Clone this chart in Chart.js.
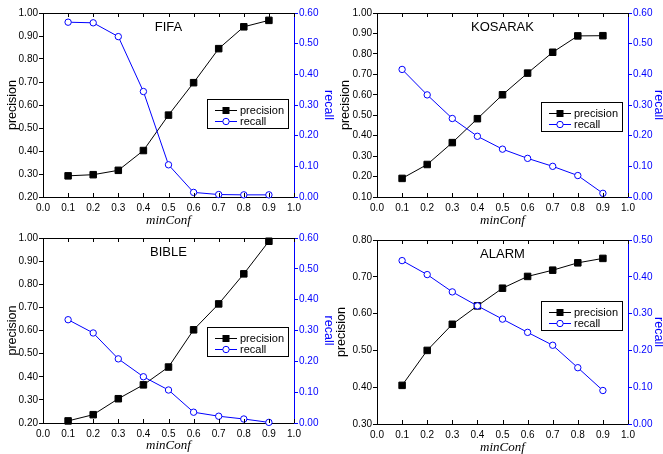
<!DOCTYPE html>
<html>
<head>
<meta charset="utf-8">
<title>precision / recall vs minConf</title>
<script src="https://cdn.jsdelivr.net/npm/chart.js@4/dist/chart.umd.min.js"></script>
<style>
  html, body { margin: 0; padding: 0; background: #fff; }
  body { width: 663px; height: 454px; overflow: hidden; position: relative; }
  canvas { position: absolute; }
</style>
</head>
<body>
<div id="pageContainer"></div>
<script>
/* =========================================================
   DATA
========================================================= */

const minConf = [0.1, 0.2, 0.3, 0.4, 0.5, 0.6, 0.7, 0.8, 0.9];

const fifaPrecision    = [0.292, 0.297, 0.316, 0.402, 0.556, 0.697, 0.845, 0.940, 0.968];
const fifaRecall       = [0.570, 0.568, 0.523, 0.344, 0.105, 0.015, 0.008, 0.007, 0.007];

const kosarakPrecision = [0.191, 0.259, 0.366, 0.483, 0.600, 0.706, 0.808, 0.888, 0.889];
const kosarakRecall    = [0.416, 0.333, 0.256, 0.198, 0.156, 0.126, 0.100, 0.070, 0.012];

const biblePrecision   = [0.209, 0.236, 0.305, 0.365, 0.442, 0.603, 0.715, 0.845, 0.986];
const bibleRecall      = [0.335, 0.292, 0.208, 0.150, 0.107, 0.035, 0.022, 0.013, 0.002];

const alarmPrecision   = [0.405, 0.500, 0.571, 0.621, 0.669, 0.701, 0.718, 0.738, 0.750];
const alarmRecall      = [0.444, 0.406, 0.359, 0.321, 0.285, 0.249, 0.214, 0.153, 0.091];

// axis ranges: [min, max]
const xRange = [0, 1];
const fifaPrecRange    = [0.2, 1.0];
const kosarakPrecRange = [0.1, 1.0];
const biblePrecRange   = [0.2, 1.0];
const alarmPrecRange   = [0.3, 0.8];
const fifaRecRange     = [0, 0.6];
const kosarakRecRange  = [0, 0.6];
const bibleRecRange    = [0, 0.6];
const alarmRecRange    = [0, 0.5];

const seriesLabels = ["precision", "recall"];

/* =========================================================
   STYLE
========================================================= */

const BLUE = "#0000ff";
const SANS = "'Liberation Sans', Arial, sans-serif";
const SERIF = "'Liberation Serif', 'Times New Roman', serif";

Chart.defaults.font.family = SANS;
Chart.defaults.color = "#000";

/* =========================================================
   PANELS  (canvas box + plot rect, in page pixels)
========================================================= */

const panels = [
  { title: "FIFA",    prec: fifaPrecision,    rec: fifaRecall,    precRange: fifaPrecRange,    recRange: fifaRecRange,
    box: [0, 0, 345, 228],   plot: [43, 13, 294, 197],   legendTop: 86, precPad: 4.8 },
  { title: "KOSARAK", prec: kosarakPrecision, rec: kosarakRecall, precRange: kosarakPrecRange, recRange: kosarakRecRange,
    box: [330, 0, 345, 228], plot: [377, 13, 628, 197],  legendTop: 89, precPad: 7.8 },
  { title: "BIBLE",   prec: biblePrecision,   rec: bibleRecall,   precRange: biblePrecRange,   recRange: bibleRecRange,
    box: [0, 227, 345, 226], plot: [43, 238, 294, 423],  legendTop: 89, precPad: 4.8 },
  { title: "ALARM",   prec: alarmPrecision,   rec: alarmRecall,   precRange: alarmPrecRange,   recRange: alarmRecRange,
    box: [330, 227, 345, 228], plot: [377, 240, 628, 424], legendTop: 61, precPad: 4.5 }
];

/* =========================================================
   PLUGIN: top frame, inward x ticks, panel title, legend
========================================================= */

const panelDecor = {
  id: "panelDecor",
  afterDraw(chart, args, opts) {
    const { ctx, chartArea: a, scales } = chart;
    ctx.save();

    // top frame line
    ctx.strokeStyle = "#000";
    ctx.lineWidth = 1;
    ctx.beginPath();
    ctx.moveTo(a.left, a.top + 0.5);
    ctx.lineTo(a.right, a.top + 0.5);

    // x ticks pointing into the plot, top and bottom
    scales.x.ticks.forEach(t => {
      const px = Math.round(scales.x.getPixelForValue(t.value)) + 0.5;
      ctx.moveTo(px, a.bottom);
      ctx.lineTo(px, a.bottom - 4);
      ctx.moveTo(px, a.top);
      ctx.lineTo(px, a.top + 4);
    });
    ctx.stroke();

    // panel title
    ctx.fillStyle = "#000";
    ctx.font = `13px ${SANS}`;
    ctx.textAlign = "center";
    ctx.textBaseline = "middle";
    ctx.fillText(opts.title, (a.left + a.right) / 2, a.top + 14);

    // legend box
    const w = 81, h = 29;
    const lx = Math.round(a.right - 6 - w);
    const ly = Math.round(a.top + opts.legendTop);
    ctx.fillStyle = "#fff";
    ctx.fillRect(lx, ly, w, h);
    ctx.strokeStyle = "#000";
    ctx.strokeRect(lx + 0.5, ly + 0.5, w, h);

    const rows = [
      { label: seriesLabels[0], color: "#000", y: ly + 11 },
      { label: seriesLabels[1], color: BLUE,   y: ly + 21.5 }
    ];
    rows.forEach((r, i) => {
      const ry = Math.round(r.y) + 0.5;
      ctx.strokeStyle = r.color;
      ctx.beginPath();
      ctx.moveTo(lx + 8, ry);
      ctx.lineTo(lx + 30, ry);
      ctx.stroke();
      const mx = lx + 19;
      if (i === 0) {
        ctx.fillStyle = "#000";
        ctx.fillRect(mx - 3.5, ry - 3.5, 7, 7);
      } else {
        ctx.fillStyle = "#fff";
        ctx.beginPath();
        ctx.arc(mx, ry, 3.2, 0, Math.PI * 2);
        ctx.fill();
        ctx.stroke();
      }
      ctx.fillStyle = "#000";
      ctx.font = `11px ${SANS}`;
      ctx.textAlign = "left";
      ctx.textBaseline = "middle";
      ctx.fillText(r.label, lx + 33, ry);
    });

    ctx.restore();
  }
};

/* =========================================================
   RENDER
========================================================= */

function toPoints(values) {
  return minConf.map((x, i) => ({ x, y: values[i] }));
}

function renderPanel(p) {
  const [cl, ct, cw, ch] = p.box;
  const [pl, pt, pr, pb] = p.plot;

  const canvas = document.createElement("canvas");
  canvas.width = cw;
  canvas.height = ch;
  canvas.style.left = cl + "px";
  canvas.style.top = ct + "px";
  canvas.style.width = cw + "px";
  canvas.style.height = ch + "px";
  document.getElementById("pageContainer").appendChild(canvas);

  const leftW = pl - cl;
  const rightW = cl + cw - pr;
  const bottomH = ct + ch - pb;

  new Chart(canvas, {
    type: "line",
    data: {
      datasets: [
        {
          label: seriesLabels[0],
          data: toPoints(p.prec),
          yAxisID: "y",
          order: 1,
          borderColor: "#000",
          backgroundColor: "#000",
          borderWidth: 1,
          pointStyle: "rect",
          pointRadius: 4.6,
          pointBorderWidth: 1,
          pointBackgroundColor: "#000",
          pointBorderColor: "#000",
          tension: 0,
          clip: false
        },
        {
          label: seriesLabels[1],
          data: toPoints(p.rec),
          yAxisID: "y1",
          order: 0,
          borderColor: BLUE,
          backgroundColor: "#fff",
          borderWidth: 1,
          pointStyle: "circle",
          pointRadius: 3.2,
          pointBorderWidth: 1,
          pointBackgroundColor: "#fff",
          pointBorderColor: BLUE,
          tension: 0,
          clip: false
        }
      ]
    },
    options: {
      responsive: false,
      animation: false,
      devicePixelRatio: 1,
      layout: { autoPadding: false, padding: { top: pt - ct, left: 0, right: 0, bottom: 0 } },
      plugins: {
        legend: { display: false },
        tooltip: { enabled: false },
        panelDecor: { title: p.title, legendTop: p.legendTop }
      },
      scales: {
        x: {
          type: "linear",
          min: xRange[0],
          max: xRange[1],
          afterFit: s => { s.height = bottomH; },
          ticks: {
            stepSize: 0.1,
            padding: 5,
            maxRotation: 0,
            autoSkip: false,
            font: { size: 10 },
            color: "#000",
            callback: v => Number(v).toFixed(1)
          },
          grid: { drawOnChartArea: false, drawTicks: false },
          border: { color: "#000", width: 1 },
          title: {
            display: true,
            text: "minConf",
            color: "#000",
            font: { family: SERIF, style: "italic", size: 13 },
            padding: { top: 0, bottom: 0 }
          }
        },
        y: {
          position: "left",
          min: p.precRange[0],
          max: p.precRange[1],
          afterFit: s => { s.width = leftW; },
          ticks: {
            stepSize: 0.1,
            padding: 1,
            font: { size: 10 },
            color: "#000",
            callback: v => Number(v).toFixed(2)
          },
          grid: { drawOnChartArea: false, drawTicks: true, tickLength: 4, color: "#000" },
          border: { color: "#000", width: 1 },
          title: {
            display: true,
            text: seriesLabels[0],
            color: "#000",
            font: { size: 12.5 },
            padding: { top: p.precPad, bottom: 0 }
          }
        },
        y1: {
          position: "right",
          min: p.recRange[0],
          max: p.recRange[1],
          afterFit: s => { s.width = rightW; },
          ticks: {
            stepSize: 0.1,
            padding: 1,
            font: { size: 10 },
            color: BLUE,
            callback: v => Number(v).toFixed(2)
          },
          grid: { drawOnChartArea: false, drawTicks: true, tickLength: 4, color: BLUE },
          border: { color: BLUE, width: 1 },
          title: {
            display: true,
            text: seriesLabels[1],
            color: BLUE,
            font: { size: 12.5 },
            padding: { top: 9, bottom: 0 }
          }
        }
      }
    },
    plugins: [panelDecor]
  });
}

panels.forEach(renderPanel);
</script>
</body>
</html>
